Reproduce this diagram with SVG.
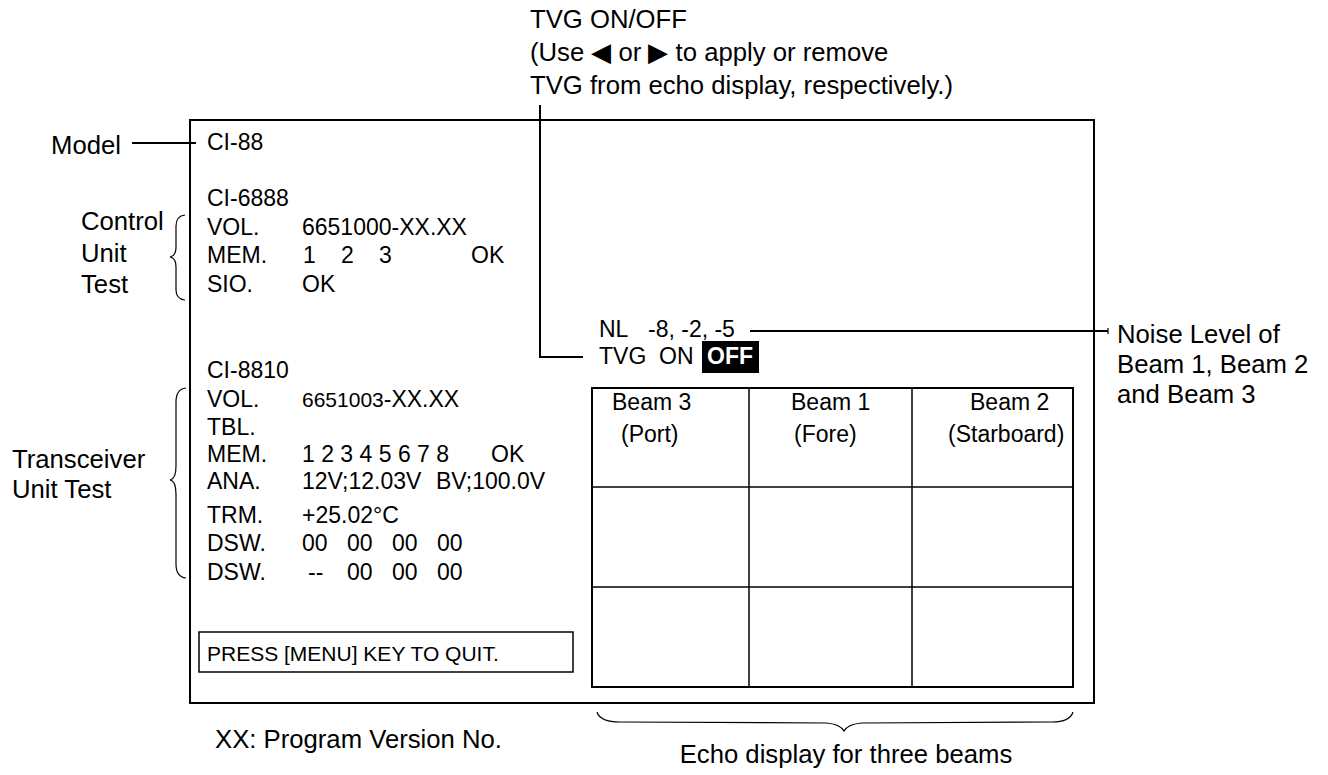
<svg xmlns="http://www.w3.org/2000/svg" width="1328" height="775" viewBox="0 0 1328 775">
<style>
text{font-family:"Liberation Sans",Arial,sans-serif;fill:#000}
.lbl{font-size:25.7px}
.scr{font-size:23px}
.sm{font-size:21px}
.ln{stroke:#000;stroke-width:2;fill:none}
.thin{stroke:#000;stroke-width:1.5;fill:none}
.br{stroke:#000;stroke-width:1.2;fill:none}
</style>
<rect width="1328" height="775" fill="#fff"/>

<g id="screen">
<rect x="190" y="120" width="904" height="583" class="ln"/>
<text class="scr" x="207" y="150">CI-88</text>
<text class="scr" x="207" y="206">CI-6888</text>
<text class="scr" x="207" y="235">VOL.</text><text class="scr" x="302" y="235">6651000-XX.XX</text>
<text class="scr" x="207" y="263">MEM.</text><text class="scr" x="303" y="263">1</text><text class="scr" x="341" y="263">2</text><text class="scr" x="379" y="263">3</text><text class="scr" x="471" y="263">OK</text>
<text class="scr" x="207" y="292">SIO.</text><text class="scr" x="302" y="292">OK</text>
<text class="scr" x="207" y="378">CI-8810</text>
<text class="scr" x="207" y="407">VOL.</text><text class="scr" x="302" y="407"><tspan font-size="21">6651003</tspan>-XX.XX</text>
<text class="scr" x="207" y="435">TBL.</text>
<text class="scr" x="207" y="462">MEM.</text><text class="scr" x="302" y="462">1 2 3 4 5 6 7 8</text><text class="scr" x="491" y="462">OK</text>
<text class="scr" x="207" y="489">ANA.</text><text class="scr" x="302" y="489">12V;12.03V</text><text class="scr" x="436" y="489">BV;100.0V</text>
<text class="scr" x="207" y="523">TRM.</text><text class="scr" x="302" y="523">+25.02°C</text>
<text class="scr" x="207" y="551">DSW.</text><text class="scr" x="302" y="551">00</text><text class="scr" x="347" y="551">00</text><text class="scr" x="392" y="551">00</text><text class="scr" x="437" y="551">00</text>
<text class="scr" x="207" y="580">DSW.</text><text class="scr" x="308" y="580">--</text><text class="scr" x="347" y="580">00</text><text class="scr" x="392" y="580">00</text><text class="scr" x="437" y="580">00</text>
</g>

<g id="press-box">
<rect x="199" y="632" width="374" height="40" class="thin"/>
<text class="sm" x="207" y="661">PRESS [MENU] KEY TO QUIT.</text>
</g>

<g id="nl-tvg">
<text class="scr" x="599" y="337">NL</text><text class="scr" x="648" y="337">-8, -2, -5</text>
<text class="scr" x="599" y="364">TVG</text><text class="scr" x="659" y="364">ON</text>
<rect x="702" y="341" width="57" height="32" fill="#000"/>
<text class="scr" x="707" y="364" font-weight="bold" style="fill:#fff">OFF</text>
</g>

<g id="echo-table">
<rect x="592" y="388" width="481" height="299" class="ln"/>
<line x1="749" y1="388" x2="749" y2="687" class="thin"/>
<line x1="912" y1="388" x2="912" y2="687" class="thin"/>
<line x1="592" y1="487" x2="1073" y2="487" class="thin"/>
<line x1="592" y1="587" x2="1073" y2="587" class="thin"/>
<text class="scr" x="612" y="410">Beam 3</text>
<text class="scr" x="621" y="442">(Port)</text>
<text class="scr" x="791" y="410">Beam 1</text>
<text class="scr" x="794" y="442">(Fore)</text>
<text class="scr" x="970" y="410">Beam 2</text>
<text class="scr" x="948" y="442">(Starboard)</text>
</g>

<g id="label-model"><text class="lbl" x="51" y="154">Model</text></g>
<g id="label-control">
<text class="lbl" x="81" y="230">Control</text>
<text class="lbl" x="81" y="262">Unit</text>
<text class="lbl" x="81" y="293">Test</text>
</g>
<g id="label-transceiver">
<text class="lbl" x="12" y="468">Transceiver</text>
<text class="lbl" x="12" y="498">Unit Test</text>
</g>
<g id="label-tvg">
<text class="lbl" x="530" y="28">TVG ON/OFF</text>
<text class="lbl" x="530" y="61">(Use ◀ or ▶ to apply or remove</text>
<text class="lbl" x="530" y="94">TVG from echo display, respectively.)</text>
</g>
<g id="label-noise">
<text class="lbl" x="1117" y="343">Noise Level of</text>
<text class="lbl" x="1117" y="373">Beam 1, Beam 2</text>
<text class="lbl" x="1117" y="403">and Beam 3</text>
</g>
<g id="label-xx"><text class="lbl" x="215" y="748">XX: Program Version No.</text></g>
<g id="label-echo"><text class="lbl" x="846" y="763" text-anchor="middle">Echo display for three beams</text></g>

<g id="connectors">
<line x1="132" y1="143" x2="196" y2="143" class="ln"/>
<polyline points="540,105 540,357 583,357" class="ln"/>
<line x1="750" y1="331" x2="1108" y2="331" class="ln"/>
<line x1="1108" y1="328" x2="1108" y2="334" class="br"/>
<path class="br" d="M185,215 Q176,216 176,226 L176,247 Q176,256 170,257 Q176,258 176,267 L176,290 Q176,299 185,300"/>
<path class="br" d="M186,388 Q176,389 176,402 L176,466 Q176,479 170,480 Q176,481 176,494 L176,564 Q176,577 186,578"/>
<path class="br" d="M597,712 Q600,722 620,722 L826,723 Q840,724 844,731 Q848,724 862,723 L1052,722 Q1070,722 1073,712"/>
</g>
</svg>
